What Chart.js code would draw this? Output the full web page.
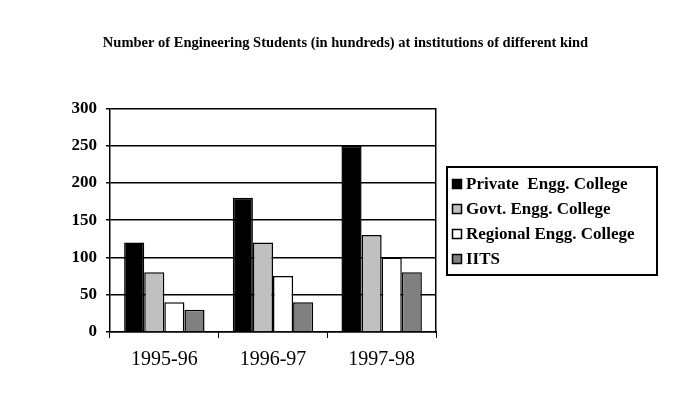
<!DOCTYPE html>
<html>
<head>
<meta charset="utf-8">
<script src="https://cdn.jsdelivr.net/npm/chart.js@4"></script>
<style>
  body { margin: 0; background: #fff; }
  #wrap { width: 691px; height: 399px; }
</style>
</head>
<body>
<div id="wrap"><canvas id="chart" width="691" height="399"></canvas></div>
<script>
const years = ['1995-96', '1996-97', '1997-98'];
const privateEngg = [120, 180, 250];
const govtEngg = [80, 120, 130];
const regionalEngg = [40, 75, 100];
const iits = [30, 40, 80];
const yTicks = [0, 50, 100, 150, 200, 250, 300];

const serif = '"Liberation Serif", "Times New Roman", serif';

// boxed legend on the right, drawn from the datasets
const boxLegend = {
    id: 'boxLegend',
    afterDraw(chart) {
        const ctx = chart.ctx;
        const x0 = 447, y0 = 167, w = 210, h = 108;
        ctx.save();
        ctx.strokeStyle = '#000';
        ctx.lineWidth = 2;
        ctx.strokeRect(x0, y0, w, h);
        ctx.font = 'bold 17px ' + serif;
        ctx.textBaseline = 'middle';
        chart.data.datasets.forEach((ds, i) => {
            const cy = y0 + 17 + i * 25;
            ctx.fillStyle = ds.backgroundColor;
            ctx.fillRect(x0 + 5, cy - 5, 10, 10);
            ctx.lineWidth = 1.5;
            ctx.strokeStyle = '#000';
            ctx.strokeRect(x0 + 5.5, cy - 4.5, 9, 9);
            ctx.fillStyle = '#000';
            ctx.fillText(ds.label, x0 + 19, cy + 1);
        });
        ctx.restore();
    }
};

const makeSet = (label, data, color) => ({
    label: label,
    data: data,
    backgroundColor: color,
    borderColor: '#000',
    borderWidth: 1.5,
    borderSkipped: 'bottom',
    categoryPercentage: 0.74,
    barPercentage: 1.0
});

new Chart(document.getElementById('chart'), {
    type: 'bar',
    data: {
        labels: years,
        datasets: [
            makeSet('Private  Engg. College', privateEngg, '#000000'),
            makeSet('Govt. Engg. College', govtEngg, '#c0c0c0'),
            makeSet('Regional Engg. College', regionalEngg, '#ffffff'),
            makeSet('IITS', iits, '#808080')
        ]
    },
    options: {
        responsive: false,
        animation: false,
        layout: { padding: 0 },
        plugins: {
            legend: { display: false },
            tooltip: { enabled: false },
            title: {
                display: true,
                text: 'Number of Engineering Students (in hundreds) at institutions of different kind',
                color: '#000',
                font: { family: serif, size: 14.5, weight: 'bold' },
                padding: { top: 35, bottom: 56 }
            }
        },
        scales: {
            x: {
                offset: true,
                grid: {
                    offset: true,
                    drawOnChartArea: false,
                    drawTicks: true,
                    tickLength: 6,
                    color: '#000'
                },
                border: { color: '#000', width: 1.5 },
                ticks: {
                    color: '#000',
                    padding: 10,
                    font: { family: serif, size: 20 }
                },
                afterFit(scale) { scale.height = 67; }
            },
            y: {
                min: 0,
                max: 300,
                afterBuildTicks(scale) { scale.ticks = yTicks.map(v => ({ value: v })); },
                grid: { color: '#000', lineWidth: 1.5, tickLength: 4 },
                border: { color: '#000', width: 1.5 },
                ticks: {
                    color: '#000',
                    padding: 9,
                    font: { family: serif, size: 17, weight: 'bold' }
                },
                afterFit(scale) { scale.width = 110; }
            },
            y2: {
                position: 'right',
                min: 0,
                max: 300,
                grid: { drawOnChartArea: false, drawTicks: false },
                border: { color: '#000', width: 1.5 },
                ticks: { display: false },
                afterFit(scale) { scale.width = 255; }
            }
        }
    },
    plugins: [boxLegend]
});
</script>
</body>
</html>
